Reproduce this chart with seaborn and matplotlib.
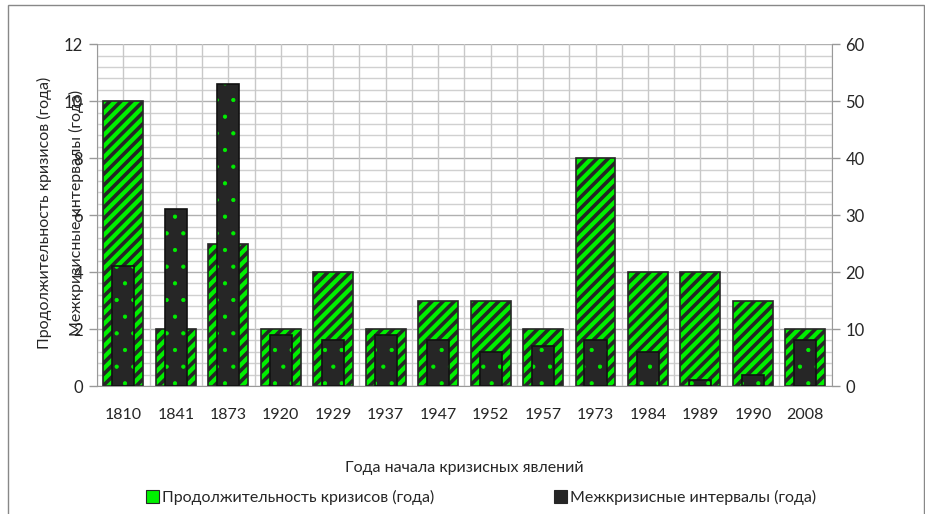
import numpy as np
import pandas as pd
import matplotlib.pyplot as plt
import matplotlib.patches as mpatches
import seaborn as sns

# data
years = ['1810', '1841', '1873', '1920', '1929', '1937', '1947',
         '1952', '1957', '1973', '1984', '1989', '1990', '2008']
duration = [10, 2, 5, 2, 4, 2, 3, 3, 2, 8, 4, 4, 3, 2]
intervals = [21, 31, 53, 9, 8, 9, 8, 6, 7, 8, 6, 1, 2, 8]

label_dur = 'Продолжительность кризисов (года)'
label_int = 'Межкризисные интервалы (года)'
x_title = 'Года начала кризисных явлений'

df = pd.DataFrame({'year': years, 'duration': duration, 'intervals': intervals})

sns.set_style('white')
plt.rcParams['font.family'] = ['Lato', 'DejaVu Sans']
plt.rcParams['hatch.linewidth'] = 2.6

green = '#00f000'
dark = '#262626'

fig = plt.figure(figsize=(9.25, 5.14), dpi=100)
ax = fig.add_axes([0.105, 0.249, 0.794, 0.665])
ax2 = ax.twinx()

sns.barplot(data=df, x='year', y='duration', ax=ax, color=green, width=0.76,
            saturation=1, edgecolor=dark, linewidth=1.2, hatch='///', zorder=2)

# dark bars: green dotted hatch, then a dark outline on top
sns.barplot(data=df, x='year', y='intervals', ax=ax2, color=dark, width=0.42,
            saturation=1, edgecolor=green, linewidth=0, hatch='.', zorder=3)
for p in ax2.patches:
    if hasattr(p, 'set_hatch_linewidth'):
        p.set_hatch_linewidth(0.6)
sns.barplot(data=df, x='year', y='intervals', ax=ax2, fill=False, width=0.42,
            edgecolor='#111111', linewidth=1.2, zorder=4)

ax.set_ylim(0, 12)
ax2.set_ylim(0, 60)
ax.set_xlim(-0.5, len(years) - 0.5)
ax.set_yticks(np.arange(0, 13, 2))
ax2.set_yticks(np.arange(0, 61, 10))

# grid: minor horizontal every 0.4, vertical at category edges and centers
for y in np.arange(0, 12.01, 0.4):
    major = abs(y / 2 - round(y / 2)) < 1e-6
    ax.axhline(y, color='#b0b0b0' if major else '#d0d0d0', lw=1.0, zorder=0)
for x in np.arange(-0.5, len(years) - 0.4, 0.5):
    ax.axvline(x, color='#c8c8c8', lw=1.0, zorder=0)

for a in (ax, ax2):
    for s in a.spines.values():
        s.set_visible(False)
    a.set_ylabel('')
    a.tick_params(axis='y', length=6, color='#999999', width=1,
                  labelsize=12, pad=4)
ax.spines['left'].set_visible(True)
ax.spines['left'].set_color('#999999')
ax2.spines['right'].set_visible(True)
ax2.spines['right'].set_color('#999999')
ax.spines['bottom'].set_visible(True)
ax.spines['bottom'].set_color('#999999')

ax.set_xlabel(x_title, fontsize=11.5, labelpad=28)
ax.tick_params(axis='x', length=0, labelsize=11.5, pad=16)

# both axis titles sit on the left, as in the original
fig.text(0.048, 0.585, label_dur, rotation=90, ha='center', va='center', fontsize=11.5)
fig.text(0.083, 0.585, label_int, rotation=90, ha='center', va='center', fontsize=11.5)

h1 = mpatches.Patch(facecolor=green, edgecolor=dark, lw=0.8)
h2 = mpatches.Patch(facecolor=dark, edgecolor=dark, lw=0.8)
fig.legend([h1, h2], [label_dur, label_int], loc='center', ncol=2,
           bbox_to_anchor=(0.52, 0.032), frameon=False, fontsize=11.5,
           handlelength=0.8, handleheight=0.8, handletextpad=0.2,
           columnspacing=7.5)

fig.patches.append(mpatches.Rectangle((0.009, -0.01), 0.99, 1.0, transform=fig.transFigure,
                                      fill=False, edgecolor='#888888', lw=1))

fig.savefig('out.png', dpi=100)
